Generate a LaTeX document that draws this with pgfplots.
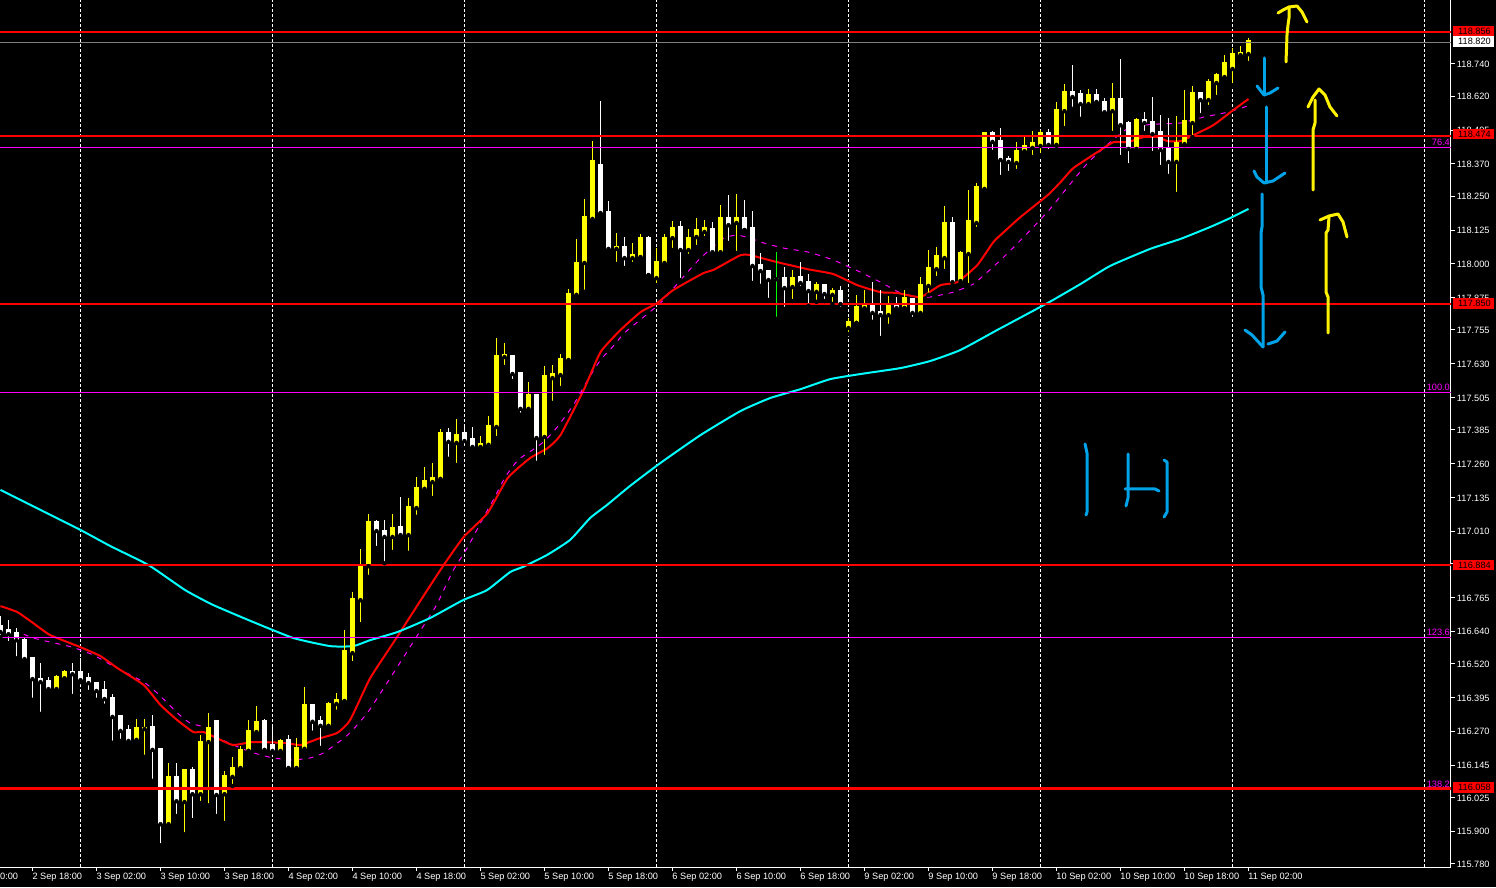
\documentclass[border=0pt]{standalone}
\usepackage{fontspec}
\setmainfont{Liberation Sans}
\usepackage{pgfplots}
\usepackage{pgfplotstable}
\pgfplotsset{compat=1.18}
\definecolor{paintblue}{HTML}{00A2E8}
\definecolor{paintyellow}{HTML}{FFF200}
\definecolor{barYellow}{HTML}{FFFF00}
\definecolor{maCyan}{HTML}{00FFFF}
\definecolor{fiboMagenta}{HTML}{FF00FF}
\definecolor{lineRed}{HTML}{FF0000}
\newcommand{\chartfont}{\fontsize{9.2}{10}\selectfont}

% candles: k = hourly bar number, l/h = wick, b/t = body
\pgfplotstableread{
k l h b t
7 116.415 116.477 116.426 116.470
8 116.463 116.496 116.466 116.489
17 116.223 116.316 116.238 116.282
18 116.175 116.316 116.278 116.282
21 115.915 116.153 115.926 116.101
23 115.889 116.127 116.008 116.127
25 116.004 116.256 116.037 116.230
26 115.996 116.338 116.230 116.282
28 115.930 116.123 116.037 116.105
29 116.067 116.175 116.101 116.134
30 116.123 116.216 116.134 116.201
31 116.197 116.312 116.197 116.271
32 116.256 116.364 116.267 116.305
35 116.190 116.241 116.197 116.234
37 116.130 116.245 116.134 116.208
38 116.197 116.433 116.205 116.367
41 116.286 116.379 116.290 116.371
42 116.342 116.411 116.371 116.386
43 116.379 116.644 116.382 116.566
44 116.522 116.785 116.559 116.759
45 116.666 116.945 116.755 116.885
46 116.841 117.074 116.881 117.045
49 116.933 117.074 116.989 117.022
51 116.930 117.133 116.996 117.100
52 117.063 117.211 117.096 117.170
53 117.152 117.248 117.167 117.196
54 117.133 117.263 117.192 117.207
55 117.200 117.389 117.204 117.374
57 117.255 117.426 117.337 117.366
60 117.318 117.363 117.322 117.333
61 117.318 117.437 117.330 117.400
62 117.355 117.725 117.396 117.659
63 117.618 117.707 117.655 117.663
66 117.452 117.563 117.463 117.515
68 117.285 117.622 117.359 117.585
69 117.485 117.626 117.577 117.592
70 117.540 117.666 117.588 117.648
71 117.633 117.907 117.644 117.888
72 117.877 118.092 117.885 118.003
73 117.896 118.240 118.003 118.173
74 118.151 118.454 118.166 118.380
77 117.999 118.114 118.055 118.062
79 117.999 118.077 118.021 118.032
80 118.021 118.110 118.025 118.095
82 117.921 118.058 117.947 118.006
83 117.992 118.110 118.003 118.095
84 118.051 118.158 118.095 118.132
86 118.029 118.129 118.051 118.095
87 118.062 118.169 118.099 118.125
88 118.095 118.162 118.118 118.132
90 118.029 118.217 118.043 118.169
92 118.040 118.258 118.151 118.169
99 117.862 117.977 117.914 117.947
102 117.859 117.932 117.896 117.921
104 117.851 117.910 117.885 117.899
106 117.740 117.799 117.762 117.785
107 117.781 117.885 117.781 117.840
108 117.829 117.903 117.836 117.844
111 117.770 117.881 117.810 117.851
113 117.836 117.903 117.836 117.873
115 117.807 117.951 117.818 117.921
116 117.885 118.051 117.918 117.984
117 117.947 118.062 117.980 118.029
118 117.973 118.214 118.021 118.151
120 117.925 118.047 117.936 118.040
121 117.921 118.273 118.036 118.158
122 118.129 118.299 118.151 118.284
123 118.273 118.484 118.277 118.484
127 118.343 118.451 118.373 118.417
128 118.406 118.476 118.417 118.436
129 118.395 118.491 118.429 118.447
130 118.402 118.495 118.436 118.484
132 118.436 118.599 118.440 118.569
133 118.502 118.665 118.565 118.636
136 118.580 118.647 118.591 118.624
139 118.484 118.669 118.565 118.610
142 118.410 118.539 118.425 118.532
147 118.258 118.547 118.377 118.447
148 118.439 118.643 118.443 118.528
149 118.469 118.658 118.521 118.632
151 118.580 118.684 118.606 118.673
152 118.617 118.706 118.669 118.698
153 118.680 118.772 118.691 118.743
154 118.661 118.798 118.721 118.776
155 118.758 118.806 118.772 118.780
156 118.743 118.835 118.776 118.824
}\upbars

\pgfplotstableread{
k l h b t
0 116.618 116.696 116.637 116.662
1 116.596 116.681 116.629 116.644
2 116.540 116.651 116.607 116.633
3 116.525 116.614 116.537 116.607
4 116.386 116.544 116.463 116.540
5 116.334 116.522 116.452 116.463
6 116.419 116.470 116.426 116.455
9 116.400 116.522 116.481 116.489
10 116.452 116.540 116.459 116.489
11 116.415 116.485 116.448 116.466
12 116.386 116.452 116.419 116.448
13 116.364 116.455 116.389 116.422
14 116.227 116.407 116.323 116.393
15 116.234 116.327 116.271 116.327
16 116.227 116.293 116.234 116.275
19 116.086 116.330 116.201 116.286
20 115.848 116.205 115.926 116.205
22 115.956 116.153 116.011 116.101
24 115.941 116.138 116.037 116.127
27 115.956 116.308 116.034 116.308
33 116.197 116.316 116.201 116.308
34 116.190 116.290 116.197 116.219
36 116.119 116.256 116.134 116.238
39 116.264 116.367 116.305 116.367
40 116.208 116.327 116.290 116.308
47 116.948 117.052 117.011 117.045
48 116.892 117.052 116.989 117.011
50 116.985 117.137 116.996 117.026
56 117.278 117.392 117.341 117.374
58 117.318 117.403 117.344 117.374
59 117.315 117.396 117.322 117.352
64 117.566 117.663 117.592 117.659
65 117.441 117.596 117.463 117.596
67 117.263 117.515 117.355 117.515
75 118.177 118.602 118.188 118.365
76 118.047 118.232 118.055 118.192
78 117.984 118.099 118.021 118.062
81 117.958 118.103 117.958 118.095
85 117.940 118.158 118.051 118.136
89 118.032 118.155 118.043 118.129
91 118.077 118.254 118.143 118.169
93 118.125 118.236 118.125 118.169
94 117.929 118.195 117.992 118.132
95 117.918 118.040 117.973 117.995
96 117.866 117.977 117.940 117.973
98 117.833 117.988 117.910 117.947
100 117.910 118.006 117.929 117.951
101 117.844 117.962 117.899 117.932
103 117.862 117.925 117.888 117.921
105 117.833 117.918 117.851 117.899
109 117.785 117.932 117.818 117.848
110 117.725 117.903 117.810 117.821
112 117.833 117.877 117.836 117.851
114 117.796 117.873 117.818 117.870
119 117.918 118.173 117.932 118.151
124 118.414 118.491 118.451 118.484
125 118.321 118.502 118.384 118.454
126 118.336 118.399 118.377 118.388
131 118.417 118.499 118.440 118.484
134 118.573 118.735 118.617 118.636
135 118.536 118.643 118.591 118.628
137 118.587 118.647 118.599 118.624
138 118.550 118.613 118.561 118.599
140 118.395 118.758 118.513 118.610
141 118.365 118.528 118.425 118.521
143 118.484 118.561 118.521 118.532
144 118.410 118.617 118.480 118.524
145 118.358 118.550 118.421 118.487
146 118.325 118.539 118.377 118.428
150 118.550 118.632 118.606 118.632
}\downbars

\pgfplotstableread{
k l h b t
97 117.796 118.043 117.943 117.947
}\flatbars

\begin{document}
\begin{tikzpicture}
\path[use as bounding box,fill=black] (0pt,0pt) rectangle (1496pt,887pt);

\begin{axis}[
    at={(0pt,20pt)},
    anchor=south west,
    scale only axis,
    width=1451pt,
    height=867pt,
    xmin=-0.0625,
    xmax=181.3125,
    ymin=115.7675,
    ymax=118.9763,
    axis x line*=bottom,
    axis y line*=right,
    axis line style={white,line width=1pt,-},
    tick style={white,line width=1pt},
    tick align=outside,
    major tick length=4pt,
    xtick={4,12,...,156},
    xticklabels={2 Sep 18:00,3 Sep 02:00,3 Sep 10:00,3 Sep 18:00,4 Sep 02:00,4 Sep 10:00,4 Sep 18:00,5 Sep 02:00,5 Sep 10:00,5 Sep 18:00,6 Sep 02:00,6 Sep 10:00,6 Sep 18:00,9 Sep 02:00,9 Sep 10:00,9 Sep 18:00,10 Sep 02:00,10 Sep 10:00,10 Sep 18:00,11 Sep 02:00},
    extra x ticks={10,34,58,82,106,130,154,178},
    extra x tick labels={},
    extra x tick style={grid=major,major tick length=0pt},
    grid style={white,line width=1pt,dash pattern=on 3pt off 2pt},
    ytick={115.780,115.900,116.025,116.145,116.270,116.395,116.520,116.640,116.765,116.890,117.010,117.135,117.260,117.385,117.505,117.630,117.755,117.875,118.000,118.125,118.250,118.370,118.495,118.620,118.740},
    scaled y ticks=false,
    /pgf/number format/fixed,
    /pgf/number format/fixed zerofill,
    /pgf/number format/precision=3,
    /pgf/number format/assume math mode=true,
    tick label style={font=\chartfont,text=white},
    xticklabel style={anchor=north west,xshift=0pt,yshift=-2.5pt,inner sep=0pt,outer sep=0pt},
    yticklabel style={anchor=west,xshift=2pt,yshift=-0.5pt,inner sep=0pt,outer sep=0pt},
]

% moving averages
\addplot[fiboMagenta,line width=1pt,dash pattern=on 5pt off 6pt,smooth,tension=0.3] coordinates {
(2.9,116.629) (4.1,116.615) (6.2,116.600) (9,116.581) (11.6,116.552) (14.1,116.511)
(17.9,116.452) (19.6,116.411) (22.1,116.338) (23.7,116.300) (25.9,116.282) (27.5,116.241)
(30,116.208) (31.6,116.190) (34.1,116.171) (36.6,116.164) (38.7,116.171) (40.4,116.190)
(43.4,116.256) (46.2,116.352) (52.7,116.652) (54.5,116.737) (56.6,116.866) (58.4,116.951)
(60.4,117.063) (61.6,117.126) (63.1,117.211) (64.7,117.274) (66.5,117.311) (67.9,117.341)
(69.6,117.396) (71.6,117.477) (73.4,117.570) (75,117.644) (76.5,117.692) (78.1,117.747)
(82.5,117.855) (85,117.940) (87.5,118.021) (90.4,118.095) (92.1,118.106) (93.7,118.095)
(95.4,118.077) (97.9,118.058) (101,118.043) (104.1,118.014) (107.5,117.969) (110,117.932)
(112.5,117.892) (114.6,117.877) (116.2,117.877) (119.1,117.895) (121.6,117.925) (123.5,117.973)
(125.4,118.025) (128.4,118.114) (131.2,118.203) (133.4,118.284) (135.9,118.373) (138.7,118.450)
(141.2,118.506) (144.6,118.517) (147.5,118.521) (150.4,118.543) (153.4,118.561) (155.9,118.584)
};
\addplot[lineRed,line width=2pt,smooth,tension=0.3] coordinates {
(0,116.733) (2.1,116.711) (4.1,116.670) (6.2,116.626) (10,116.581) (12.5,116.548)
(14.6,116.504) (17.9,116.441) (20,116.367) (22.1,116.311) (24.1,116.267) (25.4,116.267)
(27.5,116.238) (29.1,116.219) (31.6,116.230) (35.4,116.227) (37.5,116.219) (39.6,116.241)
(42.1,116.264) (43.7,116.311) (46.2,116.466) (49.4,116.611) (53.1,116.781) (55.4,116.885)
(57.9,116.989) (60.9,117.078) (63.4,117.207) (66.2,117.281) (68.4,117.318) (70,117.366)
(72.9,117.533) (75,117.673) (77.5,117.755) (80,117.821) (82.1,117.855) (84.1,117.903)
(87.9,117.966) (89.1,117.977) (92.5,118.032) (93.7,118.032) (97.1,118.006) (100.9,117.980)
(104.1,117.962) (107.1,117.921) (110,117.895) (112.1,117.892) (115,117.877) (117.5,117.921)
(119.6,117.932) (122.1,117.995) (124.1,118.080) (125.4,118.117) (127.5,118.173) (130.9,118.254)
(132.5,118.302) (134.1,118.354) (137.1,118.413) (139.1,118.450) (140.9,118.450) (142.9,118.469)
(144.6,118.469) (145.9,118.454) (147.5,118.454) (149.1,118.476) (151.6,118.513) (154.1,118.569)
(156,118.610)
};
\addplot[maCyan,line width=2pt,smooth,tension=0.3] coordinates {
(0,117.163) (5,117.089) (10,117.015) (13.75,116.955) (18.5,116.885) (23.1,116.792)
(26.6,116.737) (31.6,116.674) (36.6,116.615) (41.2,116.585) (44.1,116.585) (46.2,116.607)
(49.6,116.637) (53.7,116.689) (57.8,116.755) (60.8,116.792) (63.7,116.859) (65.3,116.878)
(68.3,116.922) (71.2,116.978) (73.7,117.059) (75.8,117.107) (78.7,117.178) (82.5,117.263)
(87.5,117.366) (92.5,117.455) (96.2,117.503) (100,117.536) (103.7,117.573) (107.5,117.592)
(112.5,117.614) (116.2,117.640) (120,117.681) (124.6,117.755) (130.9,117.855) (135,117.925)
(138.7,117.992) (143.7,118.055) (147.5,118.092) (151.2,118.136) (153.7,118.169) (156,118.203)
};

% candles: wick and body are both error bars
\addplot[only marks,mark=none,error bars/.cd,y dir=plus,y explicit,error mark=none,
    error bar style={barYellow,line width=1pt,solid}]
    table[x=k,y=l,y error plus expr=\thisrow{h}-\thisrow{l}] {\upbars};
\addplot[only marks,mark=none,error bars/.cd,y dir=plus,y explicit,error mark=none,
    error bar style={barYellow,line width=5pt,solid}]
    table[x=k,y=b,y error plus expr=\thisrow{t}-\thisrow{b}+0.003] {\upbars};
\addplot[only marks,mark=none,error bars/.cd,y dir=plus,y explicit,error mark=none,
    error bar style={white,line width=1pt,solid}]
    table[x=k,y=l,y error plus expr=\thisrow{h}-\thisrow{l}] {\downbars};
\addplot[only marks,mark=none,error bars/.cd,y dir=plus,y explicit,error mark=none,
    error bar style={white,line width=5pt,solid}]
    table[x=k,y=b,y error plus expr=\thisrow{t}-\thisrow{b}+0.003] {\downbars};
\addplot[only marks,mark=none,error bars/.cd,y dir=plus,y explicit,error mark=none,
    error bar style={green,line width=1pt,solid}]
    table[x=k,y=l,y error plus expr=\thisrow{h}-\thisrow{l}] {\flatbars};
\addplot[only marks,mark=none,error bars/.cd,y dir=plus,y explicit,error mark=none,
    error bar style={green,line width=5pt,solid}]
    table[x=k,y=b,y error plus expr=\thisrow{t}-\thisrow{b}] {\flatbars};

% fibo levels and horizontal lines
\addplot[fiboMagenta,line width=1pt] coordinates {(-1,118.432) (182,118.432)};
\addplot[fiboMagenta,line width=1.5pt] coordinates {(-1,117.523) (182,117.523)};
\addplot[fiboMagenta,line width=1pt] coordinates {(-1,116.618) (182,116.618)};
\addplot[fiboMagenta,line width=2.6pt] coordinates {(-1,116.058) (182,116.058)};
\addplot[gray,line width=1pt] coordinates {(-1,118.820) (182,118.820)};
\addplot[lineRed,line width=2pt] coordinates {(-1,118.856) (182,118.856)};
\addplot[lineRed,line width=2pt] coordinates {(-1,118.474) (182,118.474)};
\addplot[lineRed,line width=2pt] coordinates {(-1,117.850) (182,117.850)};
\addplot[lineRed,line width=2pt] coordinates {(-1,116.884) (182,116.884)};
\addplot[lineRed,line width=2.2pt] coordinates {(-1,116.058) (182,116.058)};
\end{axis}

% labels and freehand pen strokes, in picture pixels from the top left
\begin{scope}[shift={(0pt,887pt)},x=1pt,y=-1pt,font=\chartfont]
\fill[lineRed] (1453,26) rectangle (1494,36);
\fill[white] (1453,36) rectangle (1494,47);
\fill[lineRed] (1453,129) rectangle (1494,139);
\fill[lineRed] (1453,298) rectangle (1494,309);
\fill[lineRed] (1453,560) rectangle (1494,570);
\fill[lineRed] (1453,782) rectangle (1494,793);
\foreach \py/\lab in {31/118.856,41.5/118.820,134/118.474,303.5/117.850,565/116.884,787.5/116.058}
  \node[anchor=west,inner sep=0pt,text=black] at (1458,\py) {\lab};
\foreach \py/\lab in {142/76.4,387/100.0,632/123.6,784/138.2}
  \node[anchor=east,inner sep=0pt,text=fiboMagenta] at (1450,\py) {\lab};
\node[anchor=west,inner sep=0pt,text=white] at (0,876.5) {0:00};

\begin{scope}[paintblue,line width=3pt,line cap=round,line join=round]
\draw (1264,58) -- (1264,95);
\draw (1257,86) -- (1264,95) -- (1270,93) -- (1278,88);
\draw (1266,107) -- (1266,183);
\draw (1254,171) -- (1257,177) -- (1264,183) -- (1273,181) -- (1285,173);
\draw (1262,194) -- (1262,227) -- (1261,233) -- (1261,287) -- (1263,295) -- (1263,347);
\draw (1245,330) -- (1252,335) -- (1263,347);
\draw (1268,344) -- (1277,341) -- (1285,332);
\draw (1085,444) -- (1087,453) -- (1087,512) -- (1086,515);
\draw (1128,454) -- (1128,498) -- (1126,506);
\draw (1125,489) -- (1155,489) -- (1159,491);
\draw (1164,460) -- (1167,462) -- (1167,512) -- (1164,517);
\end{scope}
\begin{scope}[paintyellow,line width=3pt,line cap=round,line join=round]
\draw (1286,62) -- (1287,35) -- (1288,25) -- (1289,18) -- (1289,7);
\draw (1278,13) -- (1283,10) -- (1289,7) -- (1297,6) -- (1302,12) -- (1307,22);
\draw (1313,190) -- (1313,130) -- (1315,123) -- (1315,100);
\draw (1308,107) -- (1313,97) -- (1319,89) -- (1325,95) -- (1330,107) -- (1337,116);
\draw (1328,333) -- (1328,297) -- (1326,292) -- (1326,233) -- (1328,230) -- (1329,217);
\draw (1320,220) -- (1329,216) -- (1338,214) -- (1343,222) -- (1347,237);
\end{scope}
\end{scope}
\end{tikzpicture}
\end{document}
